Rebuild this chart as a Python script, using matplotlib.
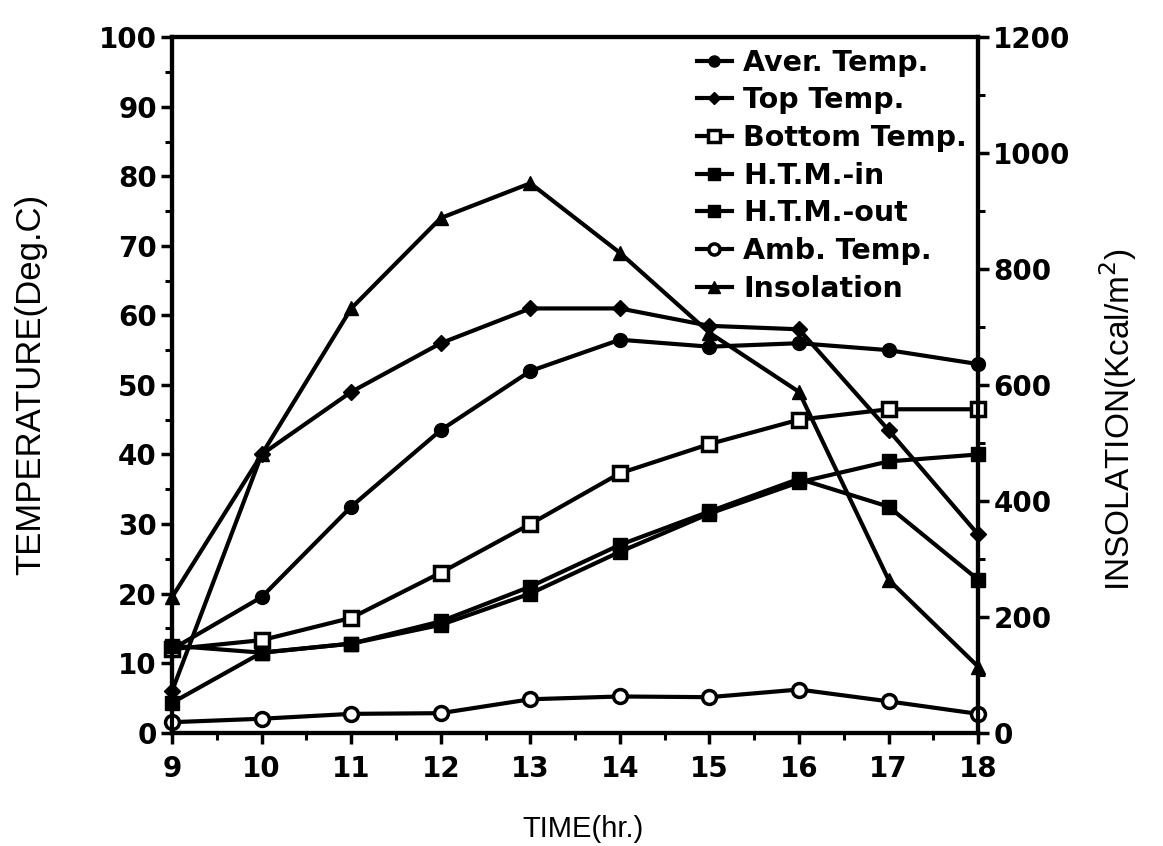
import matplotlib.pyplot as plt
from matplotlib.ticker import MultipleLocator

plt.rcParams['font.family'] = ['Liberation Sans', 'DejaVu Sans']

hours = [9, 10, 11, 12, 13, 14, 15, 16, 17, 18]

aver_temp = [12.0, 19.5, 32.5, 43.5, 52.0, 56.5, 55.5, 56.0, 55.0, 53.0]
top_temp = [6.0, 40.0, 49.0, 56.0, 61.0, 61.0, 58.5, 58.0, 43.5, 28.5]
bottom_temp = [12.0, 13.3, 16.5, 23.0, 30.0, 37.3, 41.5, 45.0, 46.5, 46.5]
htm_in = [4.3, 11.5, 12.8, 16.0, 21.0, 27.0, 31.8, 36.5, 32.5, 22.0]
htm_out = [12.5, 11.5, 12.8, 15.5, 20.0, 26.0, 31.5, 36.0, 39.0, 40.0]
amb_temp = [1.5, 2.0, 2.7, 2.8, 4.8, 5.2, 5.1, 6.2, 4.5, 2.7]
insolation = [234, 480, 732, 888, 948, 828, 690, 588, 264, 114]  # Kcal/m2

fig = plt.figure(figsize=(11.63, 8.46), dpi=100)
ax = fig.add_axes([0.148, 0.134, 0.693, 0.822])
ax2 = ax.twinx()

lw = 3.0
common = dict(color='black', lw=lw, ms=10, clip_on=False, zorder=3)

h1, = ax.plot(hours, aver_temp, marker='o', mfc='black', label='Aver. Temp.', **common)
h2, = ax.plot(hours, top_temp, marker='D', ms=8, mfc='black', color='black', lw=lw,
              clip_on=False, zorder=3, label='Top Temp.')
h3, = ax.plot(hours, bottom_temp, marker='s', mfc='white', mew=2.5, label='Bottom Temp.', **common)
h4, = ax.plot(hours, htm_in, marker='s', mfc='black', label='H.T.M.-in', **common)
h5, = ax.plot(hours, htm_out, marker='s', mfc='black', label='H.T.M.-out', **common)
h6, = ax.plot(hours, amb_temp, marker='o', mfc='white', mew=2.5, label='Amb. Temp.', **common)
h7, = ax2.plot(hours, insolation, marker='^', mfc='black', label='Insolation', **common)

ax.set_xlim(9, 18)
ax.set_ylim(0, 100)
ax2.set_ylim(0, 1200)

ax.xaxis.set_major_locator(MultipleLocator(1))
ax.xaxis.set_minor_locator(MultipleLocator(0.5))
ax.yaxis.set_major_locator(MultipleLocator(10))
ax.yaxis.set_minor_locator(MultipleLocator(5))
ax2.yaxis.set_major_locator(MultipleLocator(200))
ax2.yaxis.set_minor_locator(MultipleLocator(100))

for a in (ax, ax2):
    for s in a.spines.values():
        s.set_linewidth(3)
    a.tick_params(which='major', direction='out', length=8, width=2.5, labelsize=20, pad=3)
    a.tick_params(which='minor', direction='out', length=5, width=2.2)
ax.tick_params(axis='x', pad=8)

tick_font = dict(family='DejaVu Sans', weight='bold')
for lab in ax.get_yticklabels() + ax2.get_yticklabels() + ax.get_xticklabels():
    lab.set(**tick_font)

ax.set_xlabel('TIME(hr.)', fontsize=21)
ax.xaxis.set_label_coords(0.51, -0.118)
ax.set_ylabel('TEMPERATURE(Deg.C)', fontsize=25)
ax.yaxis.set_label_coords(-0.155, 0.5)
ax2.set_ylabel('INSOLATION(Kcal/m$^2$)', fontsize=24)
ax2.yaxis.set_label_coords(1.148, 0.45)

leg = ax.legend(handles=[h1, h2, h3, h4, h5, h6, h7], loc='upper right',
                bbox_to_anchor=(1.0, 1.0), frameon=False,
                prop=dict(family='DejaVu Sans', weight='bold', size=20.5),
                handlelength=1.2, handletextpad=0.4, labelspacing=0.34,
                borderaxespad=0.0, markerscale=0.8)

fig.savefig('out.png', dpi=100)
